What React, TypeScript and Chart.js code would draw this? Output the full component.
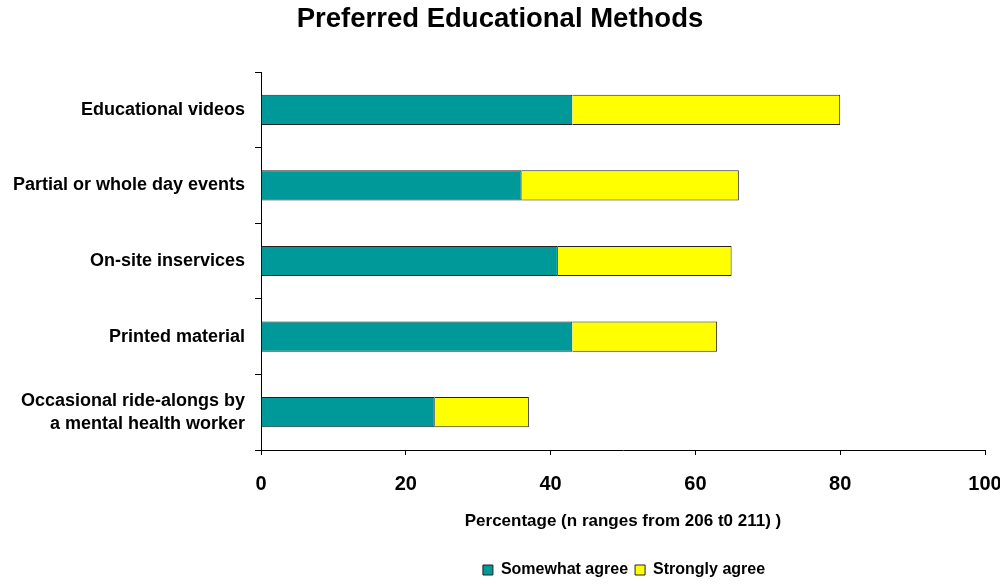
import React, { useEffect, useRef } from "react";
import { Chart, registerables } from "chart.js";

Chart.register(...registerables);

const categories: (string | string[])[] = [
  "Educational videos",
  "Partial or whole day events",
  "On-site inservices",
  "Printed material",
  ["Occasional ride-alongs by", "a mental health worker"],
];
const somewhatAgree = [43, 36, 41, 43, 24];
const stronglyAgree = [37, 30, 24, 20, 13];
const xTicks = [0, 20, 40, 60, 80, 100];

const FONT = "'Liberation Sans', Arial, sans-serif";
const LEGEND_SHIFT = 124;

const shiftLegend = {
  id: "shiftLegend",
  afterUpdate(chart: any) {
    const lg = chart.legend;
    if (lg) {
      lg.left += LEGEND_SHIFT;
      lg.right += LEGEND_SHIFT;
    }
  },
};

export default function App() {
  const ref = useRef<HTMLCanvasElement>(null);
  useEffect(() => {
    document.body.style.margin = "0";
    document.body.style.overflow = "hidden";
    const ctx = ref.current!;
    const chart = new Chart(ctx, {
      type: "bar",
      data: {
        labels: categories,
        datasets: [
          {
            label: "Somewhat agree",
            data: somewhatAgree,
            backgroundColor: "#009999",
            borderColor: "#222222",
            borderWidth: 1,
            barPercentage: 0.4,
            categoryPercentage: 1,
          },
          {
            label: "Strongly agree",
            data: stronglyAgree,
            backgroundColor: "#ffff00",
            borderColor: "#222222",
            borderWidth: 1,
            barPercentage: 0.4,
            categoryPercentage: 1,
          },
        ],
      },
      options: {
        indexAxis: "y",
        animation: false,
        responsive: false,
        maintainAspectRatio: false,
        layout: { padding: { left: 0, right: 0, top: 0, bottom: 4 } },
        scales: {
          x: {
            stacked: true,
            min: 0,
            max: 100,
            afterBuildTicks: (s: any) => {
              s.ticks = xTicks.map((v) => ({ value: v }));
            },
            grid: {
              display: true,
              drawOnChartArea: false,
              drawTicks: true,
              tickLength: 5,
              color: "#000",
              tickColor: "#000",
            },
            border: { display: true, color: "#000", width: 1 },
            ticks: {
              color: "#000",
              font: { family: FONT, size: 20, weight: "bold" },
              padding: 17,
              maxRotation: 0,
            },
            title: {
              display: true,
              text: "Percentage (n ranges from 206 t0 211) )",
              color: "#000",
              font: { family: FONT, size: 17, weight: "bold" },
              padding: { top: 0, bottom: 23 },
            },
            afterFit: (s: any) => {
              s.height = 105;
              s.paddingLeft = 0;
              s.paddingRight = 15;
            },
          },
          y: {
            stacked: true,
            offset: true,
            grid: {
              display: true,
              offset: true,
              drawOnChartArea: false,
              drawTicks: true,
              tickLength: 6,
              color: "#000",
              tickColor: "#000",
            },
            border: { display: true, color: "#000", width: 1 },
            ticks: {
              color: "#000",
              font: { family: FONT, size: 18, weight: "bold", lineHeight: 1.28 },
              padding: 10,
            },
            afterFit: (s: any) => {
              s.width = 261;
            },
          },
        },
        plugins: {
          title: {
            display: true,
            text: "Preferred Educational Methods",
            color: "#000",
            font: { family: FONT, size: 27.5, weight: "bold" },
            padding: { top: 3, bottom: 36 },
          },
          legend: {
            position: "bottom",
            labels: {
              color: "#000",
              font: { family: FONT, size: 16, weight: "bold" },
              boxWidth: 10,
              boxHeight: 10,
              padding: 7,
            },
          },
          tooltip: { enabled: false },
        },
      },
      plugins: [shiftLegend],
    } as any);
    return () => chart.destroy();
  }, []);
  return (
    <div style={{ width: 1000, height: 584, overflow: "hidden", position: "relative" }}>
      <canvas ref={ref} width={1000} height={592} style={{ display: "block" }} />
    </div>
  );
}
